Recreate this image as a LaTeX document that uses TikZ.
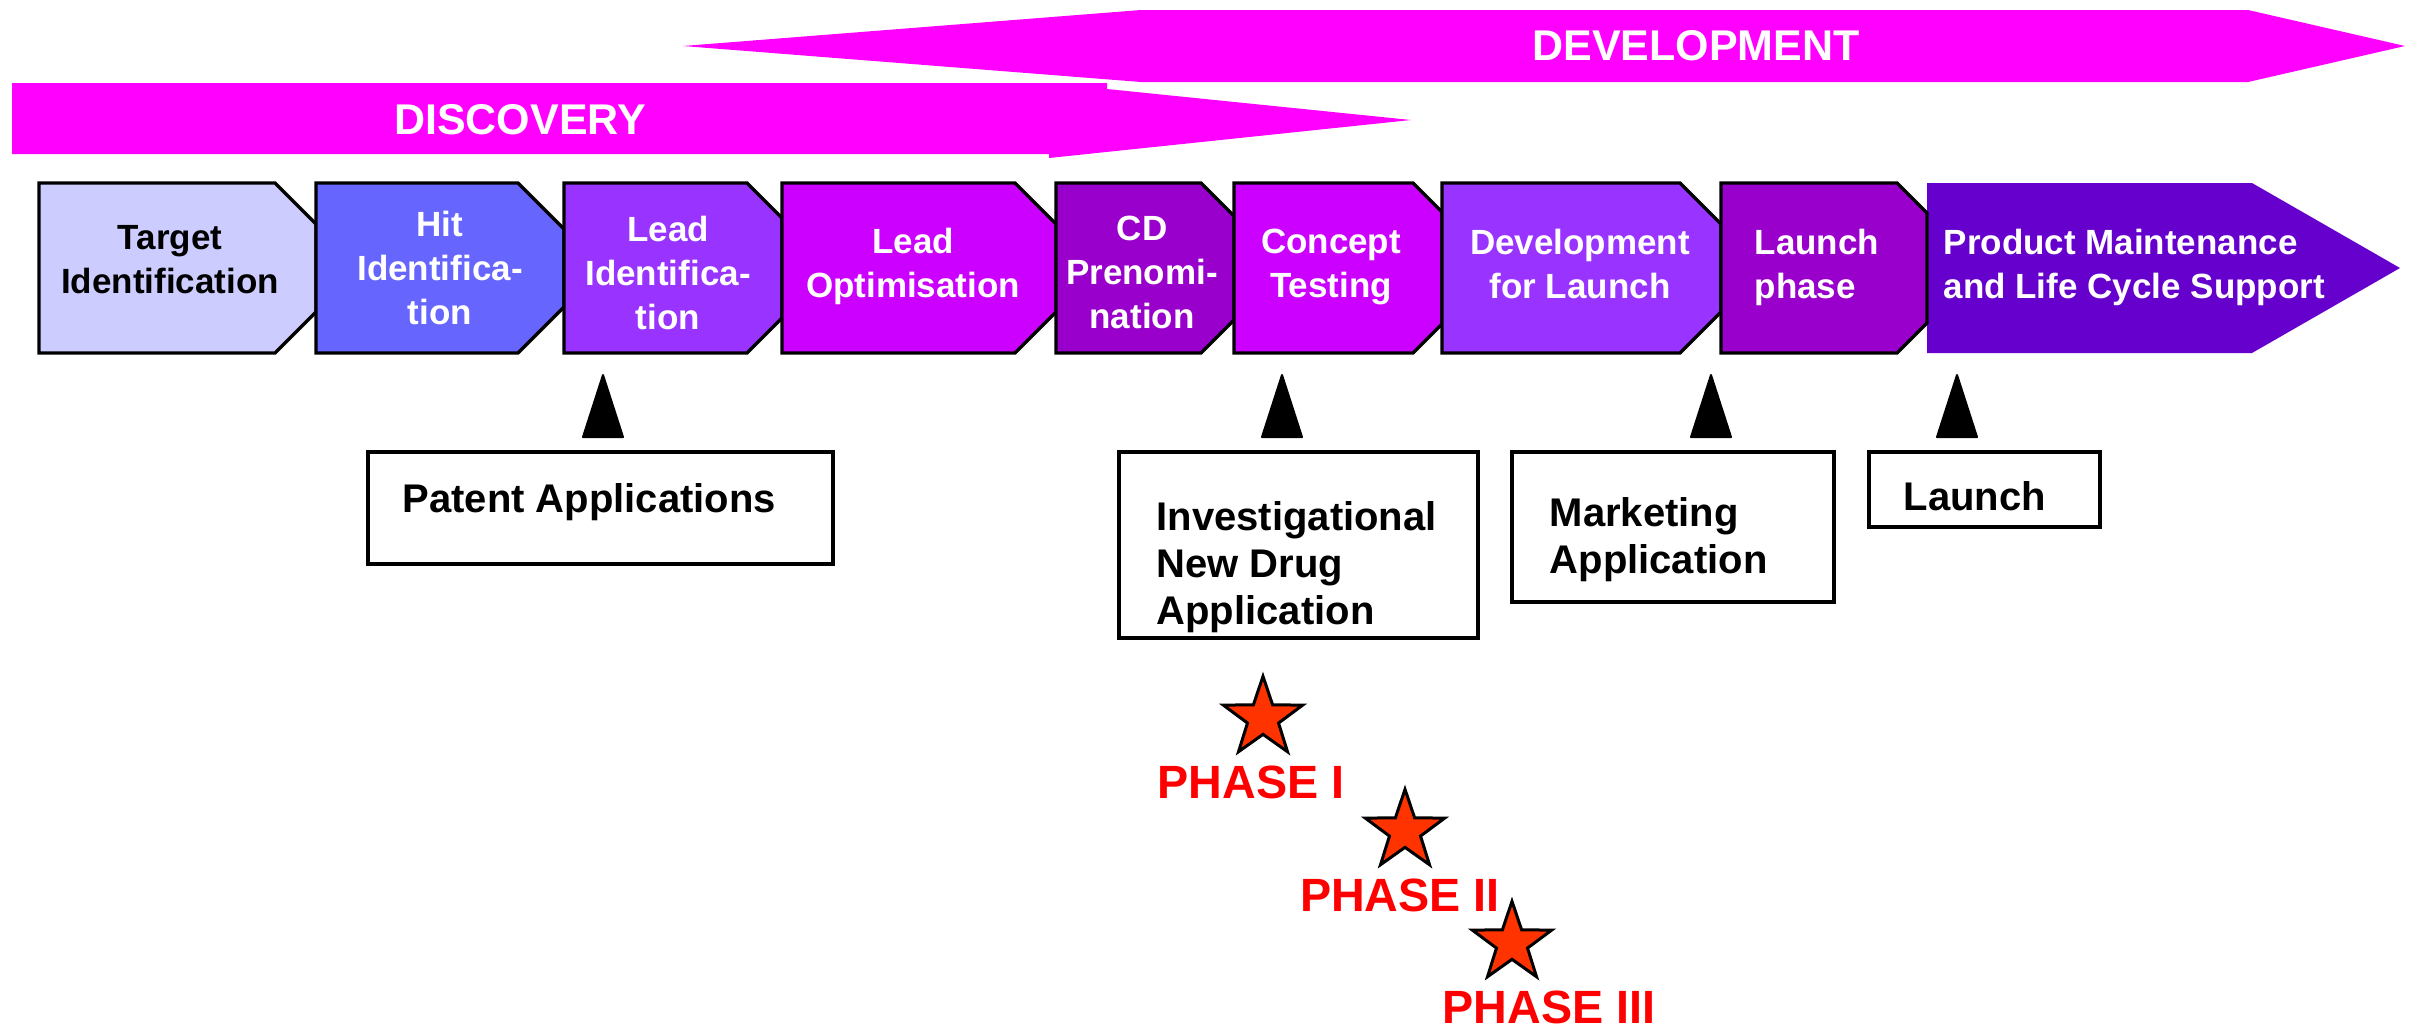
\documentclass[tikz,border=0pt]{standalone}
\usepackage{fontspec}
\setmainfont{Liberation Sans}
\usetikzlibrary{shapes.geometric}
\definecolor{cBanner}{HTML}{FF00FF}
\definecolor{cTarget}{HTML}{CCCCFF}
\definecolor{cHit}{HTML}{6666FF}
\definecolor{cLeadId}{HTML}{9933FF}
\definecolor{cLeadOpt}{HTML}{CC00FF}
\definecolor{cCD}{HTML}{9900CC}
\definecolor{cProd}{HTML}{6600CC}
\definecolor{cStar}{HTML}{FF3300}
\definecolor{cPhase}{HTML}{FF0000}
\tikzset{
  banner/.style={fill=cBanner},
  bannertext/.style={font=\fontsize{12.9}{15}\selectfont\bfseries, text=white, inner sep=0pt},
  stageline/.style={draw=black, line width=1pt, line join=miter},
  stagetext/.style={font=\fontsize{10.5}{13.2}\selectfont\bfseries, text=white, align=center, inner sep=0pt},
  callout/.style={draw=black, line width=0.95pt},
  callouttext/.style={font=\fontsize{12}{14.1}\selectfont\bfseries, text=black, align=left, inner sep=0pt},
  marker/.style={fill=black, draw=black, line width=0.6pt, line join=round},
  starnode/.style={star, star points=5, star point ratio=2.55, minimum size=25pt, inner sep=0pt, fill=cStar, draw=black, line width=0.9pt},
  phasetext/.style={font=\fontsize{14}{16}\selectfont\bfseries, text=cPhase, inner sep=0pt}
}
\newcommand\stagebox[4]{%
  \filldraw[stageline, fill=#4] (#1,183) -- (#2,183) -- ({#3},{183+#3-#2}) -- ({#3},{353-#3+#2}) -- (#2,353) -- (#1,353) -- cycle;}
\begin{document}
\begin{tikzpicture}[x=0.3pt,y=-0.3pt]
\useasboundingbox (0,0) rectangle (2418,1031);
% phase banners
\fill[banner] (683,46) -- (1141,10) -- (2248,10) -- (2405,46) -- (2248,82) -- (1141,82) -- cycle;
\node[bannertext] (devtext) at (1696,46) {DEVELOPMENT};
\fill[banner] (12,83) -- (1107,83) -- (1107,89) -- (1411,120) -- (1049,158) -- (1049,154) -- (12,154) -- cycle;
\node[bannertext] (disctext) at (520,120) {DISCOVERY};
% stage row
\fill[cProd] (1927,183) -- (2252,183) -- (2400,268) -- (2252,353) -- (1927,353) -- cycle;
\stagebox{39}{275}{316}{cTarget}
\stagebox{316}{518}{564}{cHit}
\stagebox{564}{747}{782}{cLeadId}
\stagebox{782}{1015}{1056}{cLeadOpt}
\stagebox{1056}{1201}{1234}{cCD}
\stagebox{1234}{1413}{1442}{cLeadOpt}
\stagebox{1442}{1680}{1721}{cLeadId}
\stagebox{1721}{1897}{1927}{cCD}
\node[stagetext, text=black] (target) at (170,260) {Target\\Identification};
\node[stagetext] (hit) at (440,268) {Hit\\Identifica-\\tion};
\node[stagetext] (leadid) at (668,273) {Lead\\Identifica-\\tion};
\node[stagetext] (leadopt) at (913,266) {Lead\\Optimisation};
\node[stagetext] (cd) at (1142,272) {CD\\Prenomi-\\nation};
\node[stagetext] (concept) at (1331,267) {Concept\\Testing};
\node[stagetext] (devlaunch) at (1580,264) {Development\\for Launch};
\node[stagetext, align=left, anchor=west] (launchphase) at (1754,267) {Launch\\phase};
\node[stagetext, align=left, anchor=west] (product) at (1943,267) {Product Maintenance\\and Life Cycle Support};
% milestone markers
\foreach \x in {603,1282,1711,1957}
  \filldraw[marker] (\x,375) -- (\x+20,437) -- (\x-20,437) -- cycle;
% milestone boxes
\draw[callout] (368,452) rectangle (833,564);
\node[callouttext, anchor=base west] (patent) at (402,512) {Patent Applications};
\draw[callout] (1119,452) rectangle (1478,638);
\node[callouttext, anchor=west] (ind) at (1156,567) {Investigational\\New Drug\\Application};
\draw[callout] (1512,452) rectangle (1834,602);
\node[callouttext, anchor=west] (mkt) at (1549,540) {Marketing\\Application};
\draw[callout] (1869,452) rectangle (2100,527);
\node[callouttext, anchor=base west] (launch) at (1903,510) {Launch};
% clinical phases
\node[starnode] (star1) at (1263,718) {};
\node[starnode] (star2) at (1405,831) {};
\node[starnode] (star3) at (1512,943) {};
\node[phasetext] (phase1) at (1251,782) {PHASE I};
\node[phasetext] (phase2) at (1400,895) {PHASE II};
\node[phasetext] (phase3) at (1549,1007) {PHASE III};
\end{tikzpicture}
\end{document}
